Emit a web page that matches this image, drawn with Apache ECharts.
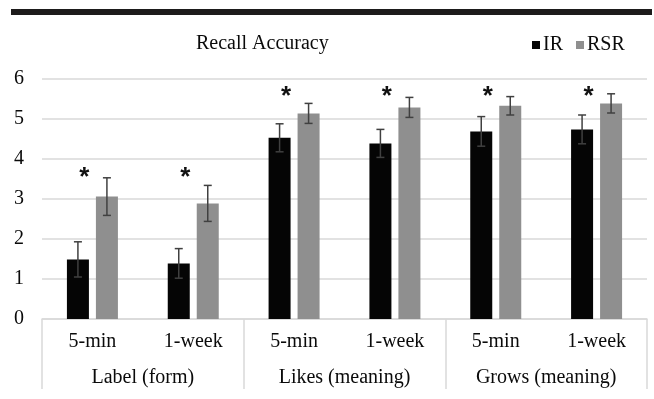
<!DOCTYPE html>
<html>
<head>
<meta charset="utf-8">
<script src="https://cdn.jsdelivr.net/npm/echarts@6/dist/echarts.min.js"></script>
<style>
  html, body { margin: 0; padding: 0; background: #fff; }
  #chart { width: 654px; height: 399px; }
</style>
</head>
<body>
<div id="chart"></div>
<script>
// Recall accuracy by word type and test delay
const delays = ['5-min', '1-week', '5-min', '1-week', '5-min', '1-week'];
const groups = ['Label (form)', 'Likes (meaning)', 'Grows (meaning)'];
const irMean = [1.49, 1.39, 4.53, 4.39, 4.69, 4.74];
const rsrMean = [3.06, 2.89, 5.14, 5.29, 5.33, 5.39];
const irErr = [0.44, 0.37, 0.35, 0.35, 0.37, 0.36];
const rsrErr = [0.47, 0.45, 0.25, 0.25, 0.23, 0.24];
const sigLevel = [3.65, 3.65, 5.67, 5.67, 5.67, 5.67];
const yTicks = [0, 1, 2, 3, 4, 5, 6];

const FONT = '"Liberation Serif", "Times New Roman", serif';
const BAR_W = 22;
const BAR_GAP = 7;
const SHIFT = (BAR_W + BAR_GAP) / 2;

function errorItems(mean, err) {
  return mean.map((m, i) => [i, m - err[i], m + err[i]]);
}

function errorRenderer(dx) {
  return function (params, api) {
    const i = api.value(0);
    const lo = api.coord([i, api.value(1)]);
    const hi = api.coord([i, api.value(2)]);
    const x = lo[0] + dx;
    const cap = 4;
    const style = { stroke: '#404040', lineWidth: 1.5 };
    return {
      type: 'group',
      children: [
        { type: 'line', shape: { x1: x, y1: hi[1], x2: x, y2: lo[1] }, style },
        { type: 'line', shape: { x1: x - cap, y1: hi[1], x2: x + cap, y2: hi[1] }, style },
        { type: 'line', shape: { x1: x - cap, y1: lo[1], x2: x + cap, y2: lo[1] }, style }
      ]
    };
  };
}

const chart = echarts.init(document.getElementById('chart'), null, { renderer: 'canvas' });

chart.setOption({
  backgroundColor: '#ffffff',
  animation: false,
  graphic: [
    { type: 'rect', shape: { x: 11, y: 9, width: 641, height: 6 }, style: { fill: '#1d1b1b' } }
  ],
  title: {
    text: 'Recall Accuracy',
    left: 191,
    top: 29,
    textStyle: { fontFamily: FONT, fontSize: 20, fontWeight: 'normal', color: '#0a0a0a' }
  },
  legend: {
    left: 527,
    top: 30,
    icon: 'rect',
    itemWidth: 8,
    itemHeight: 8,
    itemGap: 13,
    textStyle: { fontFamily: FONT, fontSize: 20, color: '#0a0a0a', padding: [0, 0, 0, -2] },
    data: ['IR', 'RSR']
  },
  grid: { left: 42, right: 7, top: 79, bottom: 80, containLabel: false },
  xAxis: [
    {
      type: 'category',
      data: delays,
      position: 'bottom',
      axisLine: { show: true, lineStyle: { color: '#d9d9d9', width: 1.5 } },
      axisTick: { show: false },
      axisLabel: { margin: 13, fontFamily: FONT, fontSize: 20, color: '#0a0a0a', interval: 0 }
    },
    {
      type: 'category',
      data: groups,
      position: 'bottom',
      offset: 0,
      axisLine: { show: false },
      axisTick: { show: true, length: 70, lineStyle: { color: '#d9d9d9', width: 1.5 } },
      axisLabel: { margin: 49, fontFamily: FONT, fontSize: 20, color: '#0a0a0a', interval: 0 }
    }
  ],
  yAxis: {
    type: 'value',
    min: yTicks[0],
    max: yTicks[yTicks.length - 1],
    interval: 1,
    axisLine: { show: false },
    axisTick: { show: false },
    splitLine: { lineStyle: { color: '#d9d9d9', width: 1.5 } },
    axisLabel: { margin: 18, fontFamily: FONT, fontSize: 20, color: '#0a0a0a' }
  },
  series: [
    {
      name: 'IR',
      type: 'bar',
      data: irMean,
      barWidth: BAR_W,
      barGap: (BAR_GAP / BAR_W * 100).toFixed(1) + '%',
      itemStyle: { color: '#050505' }
    },
    {
      name: 'RSR',
      type: 'bar',
      data: rsrMean,
      barWidth: BAR_W,
      itemStyle: { color: '#8f8f8f' }
    },
    {
      type: 'custom',
      renderItem: errorRenderer(-SHIFT),
      data: errorItems(irMean, irErr),
      encode: { x: 0, y: [1, 2] },
      z: 5
    },
    {
      type: 'custom',
      renderItem: errorRenderer(SHIFT),
      data: errorItems(rsrMean, rsrErr),
      encode: { x: 0, y: [1, 2] },
      z: 5
    },
    {
      type: 'custom',
      data: sigLevel.map((v, i) => [i, v]),
      encode: { x: 0, y: 1 },
      z: 6,
      renderItem: function (params, api) {
        const p = api.coord([api.value(0), api.value(1)]);
        return {
          type: 'text',
          x: p[0] - 8,
          y: p[1] + 5,
          style: {
            text: '*',
            fontFamily: '"Liberation Sans", Arial, sans-serif',
            fontWeight: 'bold',
            fontSize: 26,
            fill: '#111',
            align: 'center',
            verticalAlign: 'middle'
          }
        };
      }
    }
  ]
});
</script>
</body>
</html>
